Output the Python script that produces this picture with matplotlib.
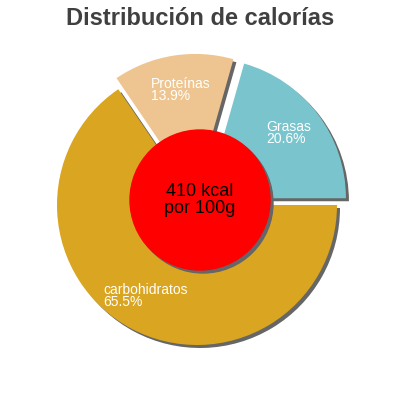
import matplotlib
matplotlib.use("Agg")
import matplotlib.pyplot as plt
from matplotlib.patches import Circle

plt.rcParams['font.family'] = ['Liberation Sans', 'DejaVu Sans']

# data
labels = ["Grasas", "Proteínas", "carbohidratos"]
shares = [20.6, 13.9, 65.5]
colors = ["#7AC5CD", "#EEC591", "#DAA520"]
explode_frac = [0.08, 0.08, 0.0]   # as fraction of radius
energy_text = "410 kcal\npor 100g"
title = "Distribución de calorías"

# label anchors in pixel space (left x, last baseline y)
label_pos = [(266, 143), (151, 100), (103, 306)]

W = 400
fig = plt.figure(figsize=(4, 4), dpi=100)
ax = fig.add_axes([0, 0, 1, 1])

cx, cy, r = 197, W - 205, 140
sh = (3, -3)
# pie() takes explode in data units, not radius fraction
explode = [e * r for e in explode_frac]

# shadows first, plain grey
ax.pie(shares, explode=explode, colors=["#666666"] * 3, startangle=0,
       center=(cx + sh[0], cy + sh[1]), radius=r, frame=True,
       wedgeprops=dict(linewidth=0))
ax.pie(shares, explode=explode, colors=colors, startangle=0,
       center=(cx, cy), radius=r, frame=True,
       wedgeprops=dict(linewidth=0))

ax.set_xlim(0, W)
ax.set_ylim(0, W)
ax.set_aspect('equal')
ax.axis('off')

# center disc
rc = 70
ccx, ccy = 200, W - 200
ax.add_patch(Circle((ccx + sh[0], ccy + sh[1]), rc, color="#666666", zorder=5))
ax.add_patch(Circle((ccx, ccy), rc, color="red", zorder=6))
ax.text(ccx, ccy, energy_text, ha='center', va='center', fontsize=13,
        color='black', linespacing=0.95, zorder=7)

for lab, val, (lx, ly) in zip(labels, shares, label_pos):
    ax.text(lx, W - ly, f"{lab}\n{val}%", ha='left', va='baseline',
            fontsize=10, color='white', linespacing=0.82, zorder=7)

fig.text(0.5, 1 - 25 / W, title, ha='center', va='baseline',
         fontsize=17, fontweight='bold', color='#404040')

fig.savefig("out.png", dpi=100)
